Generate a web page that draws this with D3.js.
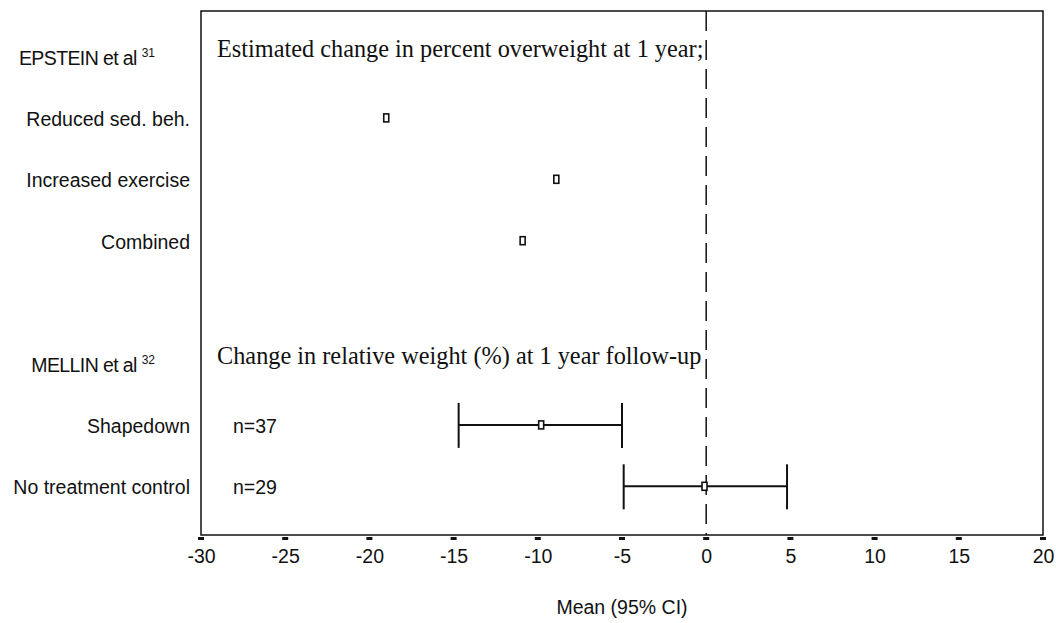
<!DOCTYPE html>
<html>
<head>
<meta charset="utf-8">
<script src="https://cdn.jsdelivr.net/npm/d3@7"></script>
<style>
  body { margin: 0; background: #fff; }
  svg { display: block; }
  .lab { font-family: "Liberation Sans", Arial, sans-serif; font-size: 19.5px; fill: #111; }
  .hdr { font-family: "Liberation Serif", "Times New Roman", serif; font-size: 24.3px; fill: #111; }
</style>
</head>
<body>
<svg id="chart" width="1056" height="623"></svg>
<script>
// rows of the forest plot, top to bottom ("" = empty spacer row)
var rowLabels = ["EPSTEIN et al", "Reduced sed. beh.", "Increased exercise", "Combined", "", "MELLIN et al", "Shapedown", "No treatment control"];
var rowRefs = ["31", "", "", "", "", "32", "", ""];
var rowHeaders = ["Estimated change in percent overweight at 1 year;", "", "", "", "", "Change in relative weight (%) at 1 year follow-up", "", ""];
var sampleSizes = ["", "", "", "", "", "", "n=37", "n=29"];

// mean and 95% CI per row (null = nothing drawn)
var means = [null, -19.0, -8.9, -10.9, null, null, -9.8, -0.1];
var ciLow = [null, null, null, null, null, null, -14.7, -4.9];
var ciHigh = [null, null, null, null, null, null, -5.0, 4.8];

var xTicks = [-30, -25, -20, -15, -10, -5, 0, 5, 10, 15, 20];
var xTitle = "Mean (95% CI)";

var svg = d3.select("#chart");
var plotLeft = 201, plotRight = 1043, plotTop = 11, plotBottom = 535;

var x = d3.scaleLinear().domain([-30, 20]).range([plotLeft, plotRight]);
var y = d3.scalePoint().domain(d3.range(rowLabels.length)).range([57.5, 487.3]);

// frame
svg.append("rect")
    .attr("x", plotLeft).attr("y", plotTop)
    .attr("width", plotRight - plotLeft).attr("height", plotBottom - plotTop)
    .attr("fill", "none").attr("stroke", "#111").attr("stroke-width", 1.5);

// reference line at zero
svg.append("line")
    .attr("x1", x(0)).attr("x2", x(0))
    .attr("y1", plotTop).attr("y2", plotBottom)
    .attr("stroke", "#111").attr("stroke-width", 1.5)
    .attr("stroke-dasharray", "20,9");

// x axis: labels from d3, little dash marks under the frame
var axis = svg.append("g")
    .attr("transform", "translate(0," + plotBottom + ")")
    .call(d3.axisBottom(x).tickValues(xTicks).tickSize(0).tickPadding(14)
      .tickFormat(function(d) { return String(d); }));
axis.select(".domain").remove();
axis.selectAll("text")
    .attr("fill", "#111")
    .style("font-family", "Liberation Sans, Arial, sans-serif")
    .style("font-size", "19.5px");

svg.selectAll(".tickmark")
    .data(xTicks)
    .enter()
    .append("rect")
    .attr("class", "tickmark")
    .attr("x", function(d) { return x(d) - 3; })
    .attr("y", plotBottom + 2)
    .attr("width", 6).attr("height", 3)
    .attr("fill", "#111");

svg.append("text")
    .attr("class", "lab")
    .attr("x", (plotLeft + plotRight) / 2)
    .attr("y", 614)
    .attr("text-anchor", "middle")
    .text(xTitle);

// row labels
var rows = svg.selectAll(".row")
    .data(rowLabels)
    .enter()
    .append("g")
    .attr("class", "row");

rows.append("text")
    .attr("class", "lab")
    .attr("text-anchor", "end")
    .attr("x", function(d, i) { return rowRefs[i] ? 155 : 190; })
    .attr("y", function(d, i) { return y(i) + 7; })
    .style("letter-spacing", function(d, i) { return rowRefs[i] ? "-0.6px" : null; })
    .each(function(d, i) {
      var t = d3.select(this);
      t.append("tspan").text(d + (rowRefs[i] ? " " : ""));
      if (rowRefs[i]) {
        t.append("tspan")
          .attr("dy", -8)
          .style("font-size", "12px")
          .style("letter-spacing", "0px")
          .text(rowRefs[i]);
      }
    });

rows.append("text")
    .attr("class", "hdr")
    .attr("x", plotLeft + 16)
    .attr("y", function(d, i) { return y(i) - 1; })
    .text(function(d, i) { return rowHeaders[i]; });

rows.append("text")
    .attr("class", "lab")
    .attr("x", 233)
    .attr("y", function(d, i) { return y(i) + 7; })
    .text(function(d, i) { return sampleSizes[i]; });

// confidence intervals
var ciRows = d3.range(rowLabels.length).filter(function(i) { return ciLow[i] !== null; });

var ci = svg.selectAll(".ci")
    .data(ciRows)
    .enter()
    .append("g")
    .attr("class", "ci")
    .attr("stroke", "#111")
    .attr("stroke-width", 2);

ci.append("line")
    .attr("x1", function(i) { return x(ciLow[i]); })
    .attr("x2", function(i) { return x(ciHigh[i]); })
    .attr("y1", function(i) { return y(i) - 1; })
    .attr("y2", function(i) { return y(i) - 1; });

ci.append("line")
    .attr("x1", function(i) { return x(ciLow[i]); })
    .attr("x2", function(i) { return x(ciLow[i]); })
    .attr("y1", function(i) { return y(i) - 23; })
    .attr("y2", function(i) { return y(i) + 22; });

ci.append("line")
    .attr("x1", function(i) { return x(ciHigh[i]); })
    .attr("x2", function(i) { return x(ciHigh[i]); })
    .attr("y1", function(i) { return y(i) - 23; })
    .attr("y2", function(i) { return y(i) + 22; });

// point estimates
var meanRows = d3.range(rowLabels.length).filter(function(i) { return means[i] !== null; });

svg.selectAll(".mean")
    .data(meanRows)
    .enter()
    .append("rect")
    .attr("class", "mean")
    .attr("x", function(i) { return x(means[i]) - 2.5; })
    .attr("y", function(i) { return y(i) - 5; })
    .attr("width", 5).attr("height", 8)
    .attr("fill", "#fff")
    .attr("stroke", "#111")
    .attr("stroke-width", 1.6);
</script>
</body>
</html>
